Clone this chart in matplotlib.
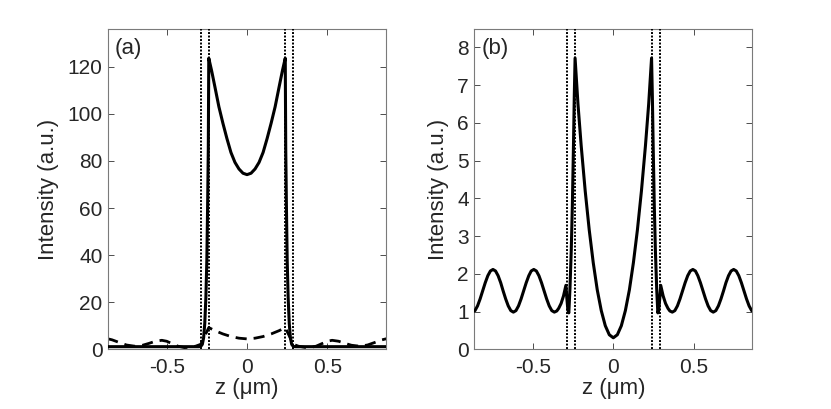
import numpy as np
import matplotlib
matplotlib.use('Agg')
import matplotlib.pyplot as plt

# 字体: Arial 风格 (接近 MATLAB 的 Helvetica)
plt.rcParams['font.family'] = ['Liberation Sans', 'DejaVu Sans']
plt.rcParams['axes.unicode_minus'] = False

# ---- 数据 (只给出 z >= 0 的一半, 曲线关于 z=0 对称) ----
# (a) 实线
z_a_solid = [0, 0.025, 0.05, 0.075, 0.1, 0.125, 0.15, 0.175, 0.2, 0.22, 0.238,
             0.241, 0.245, 0.25, 0.256, 0.263, 0.27, 0.278, 0.288, 0.3,
             0.4, 0.5, 0.6, 0.7, 0.8, 0.87]
i_a_solid = [74.2, 74.8, 76.6, 79.4, 83.6, 89.5, 96.0, 103.0, 111.5, 118.2, 123.6,
             85.0, 62.0, 38.0, 22.0, 11.0, 5.0, 2.2, 1.3, 1.2,
             1.2, 1.2, 1.2, 1.2, 1.2, 1.2]

# (a) 虚线
z_a_dash = [0, 0.05, 0.1, 0.15, 0.2, 0.238, 0.288, 0.32, 0.36, 0.39, 0.43, 0.47,
            0.5, 0.53, 0.57, 0.61, 0.65, 0.7, 0.75, 0.8, 0.84, 0.87]
i_a_dash = [4.5, 4.8, 5.5, 6.6, 8.0, 9.3, 2.2, 1.4, 0.9, 0.8, 1.4, 2.6,
            3.5, 3.9, 3.5, 2.6, 1.8, 1.4, 1.9, 3.1, 4.1, 4.6]

# (b) 实线
z_b = [0, 0.025, 0.05, 0.075, 0.1, 0.125, 0.15, 0.175, 0.2, 0.22, 0.238,
       0.243, 0.248, 0.255, 0.262, 0.27, 0.277, 0.283, 0.29, 0.295,
       0.31, 0.325, 0.34, 0.352,
       0.367, 0.383, 0.399, 0.415, 0.431, 0.447, 0.463, 0.479, 0.495,
       0.511, 0.526, 0.542, 0.558, 0.574, 0.590, 0.606, 0.622,
       0.638, 0.654, 0.670, 0.686, 0.701, 0.717, 0.733, 0.749,
       0.765, 0.781, 0.797, 0.813, 0.829, 0.845, 0.861, 0.877]
i_b = [0.31, 0.39, 0.63, 1.03, 1.58, 2.30, 3.17, 4.20, 5.40, 6.50, 7.72,
       6.70, 5.40, 3.80, 2.60, 1.60, 0.97, 1.05, 1.40, 1.70,
       1.42, 1.22, 1.09, 1.02,
       0.99, 1.03, 1.155, 1.34, 1.555, 1.77, 1.955, 2.08, 2.12,
       2.08, 1.955, 1.77, 1.555, 1.34, 1.155, 1.03, 0.99,
       1.03, 1.155, 1.34, 1.555, 1.77, 1.955, 2.08, 2.12,
       2.08, 1.955, 1.77, 1.555, 1.34, 1.155, 1.03, 0.99]

# 界面位置 (虚点竖线)
z_walls = [0.238, 0.288]

x_ticks = [-0.5, 0, 0.5]
x_ticklabels = ['-0.5', '0', '0.5']
y_ticks_a = [0, 20, 40, 60, 80, 100, 120]
y_ticks_b = [0, 1, 2, 3, 4, 5, 6, 7, 8]

x_lim = (-0.865, 0.865)
y_lim_a = (0, 136)
y_lim_b = (0, 8.49)


def mirror(z, v):
    """把 z>=0 的一半镜像成完整曲线"""
    z = np.asarray(z, dtype=float)
    v = np.asarray(v, dtype=float)
    return np.concatenate([-z[:0:-1], z]), np.concatenate([v[:0:-1], v])


def style_axes(ax, yticks, ylim):
    """MATLAB 风格坐标轴"""
    ax.set_xlim(*x_lim)
    ax.set_ylim(*ylim)
    ax.set_xticks(x_ticks)
    ax.set_xticklabels(x_ticklabels)
    ax.set_yticks(yticks)
    ax.tick_params(direction='in', length=4, width=0.7, colors='#4d4d4d',
                   labelcolor='#262626', labelsize=15,
                   top=True, right=True)
    ax.tick_params(axis='x', pad=6)
    ax.tick_params(axis='y', pad=4)
    for s in ax.spines.values():
        s.set_color('#7a7a7a')
        s.set_linewidth(0.8)
    ax.set_xlabel('z (μm)', fontsize=16, color='#262626', labelpad=1)
    ax.set_ylabel('Intensity (a.u.)', fontsize=16, color='#262626', labelpad=6)
    for w in z_walls:
        for sign in (-1, 1):
            ax.axvline(sign * w, color='black', linestyle=(0, (1.0, 0.8)),
                       linewidth=1.4, zorder=4)


fig = plt.figure(figsize=(8.31, 4.09), dpi=100)
ax_a = fig.add_axes([0.130, 0.1455, 0.3345, 0.7836])
ax_b = fig.add_axes([0.5708, 0.1455, 0.3345, 0.7836])

# (a)
z, v = mirror(z_a_dash, i_a_dash)
ax_a.plot(z, v, color='black', linestyle=(0, (4, 2.5)), linewidth=2.0, zorder=2)
z, v = mirror(z_a_solid, i_a_solid)
ax_a.plot(z, v, color='black', linewidth=2.2, zorder=3)
style_axes(ax_a, y_ticks_a, y_lim_a)
ax_a.text(0.025, 0.94, '(a)', transform=ax_a.transAxes, fontsize=16,
          color='#262626', ha='left', va='center')

# (b)
z, v = mirror(z_b, i_b)
ax_b.plot(z, v, color='black', linewidth=2.2, zorder=3)
style_axes(ax_b, y_ticks_b, y_lim_b)
ax_b.text(0.025, 0.94, '(b)', transform=ax_b.transAxes, fontsize=16,
          color='#262626', ha='left', va='center')

fig.savefig('out.png', dpi=100)
plt.close(fig)
